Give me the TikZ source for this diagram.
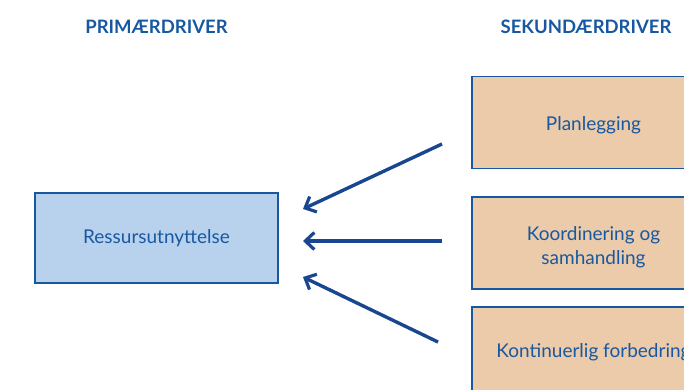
\documentclass[tikz,border=0pt]{standalone}
\usepackage{fontspec}
\setmainfont{Lato}
\usetikzlibrary{arrows.meta}
\definecolor{driverblue}{RGB}{24,88,160}
\definecolor{primfill}{RGB}{184,210,238}
\definecolor{sekfill}{RGB}{235,203,170}
\definecolor{arrowblue}{RGB}{24,70,145}
\begin{document}
\begin{tikzpicture}[x=1pt,y=-1pt,
    head/.style={font=\bfseries\fontsize{18.5}{22}\selectfont, text=driverblue},
    primbox/.style={draw=driverblue, line width=1.4pt, fill=primfill,
        minimum width=243pt, minimum height=90pt, text=driverblue,
        font=\fontsize{19}{24}\selectfont, align=center},
    sekbox/.style={primbox, fill=sekfill, minimum height=92pt},
    pil/.style={-{Straight Barb[length=9pt,width=17pt,line width=3.2pt]},
        line width=3.4pt, arrowblue}]

  \useasboundingbox (0,0) rectangle (684,390);
  \clip (0,0) rectangle (684,390);

  % ---- the two column headings ----
  \node[head] (hprim) at (156.5,27) {PRIMÆRDRIVER};
  \node[head] (hsek) at (586,27) {SEKUNDÆRDRIVER};

  % ---- primary driver ----
  \node[primbox] (res) at (156.5,238) {Ressursutnyttelse};

  % ---- secondary drivers ----
  \node[sekbox] (plan) at (593.5,122.5) {};
  \node[sekbox] (koord) at (593.5,243) {};
  \node[sekbox] (kont) at (593.5,353) {};
  \node[text=driverblue, font=\fontsize{19}{24}\selectfont]
      (tplan) at (593.5,125) {Planlegging};
  \node[text=driverblue, font=\fontsize{19}{24}\selectfont, align=center]
      (tkoord) at (593.5,247) {Koordinering og\\samhandling};
  \node[text=driverblue, font=\fontsize{19}{24}\selectfont]
      (tkont) at (593.5,352) {Kontinuerlig forbedring};

  % ---- arrows, free ends between the boxes ----
  \coordinate (p1) at (442,144);
  \coordinate (p2) at (442,241);
  \coordinate (p3) at (438,342);
  \coordinate (r1) at (303,209);
  \coordinate (r2) at (303,241);
  \coordinate (r3) at (303,277);
  \draw[pil] (p1) -- (r1);
  \draw[pil] (p2) -- (r2);
  \draw[pil] (p3) -- (r3);

\end{tikzpicture}
\end{document}
